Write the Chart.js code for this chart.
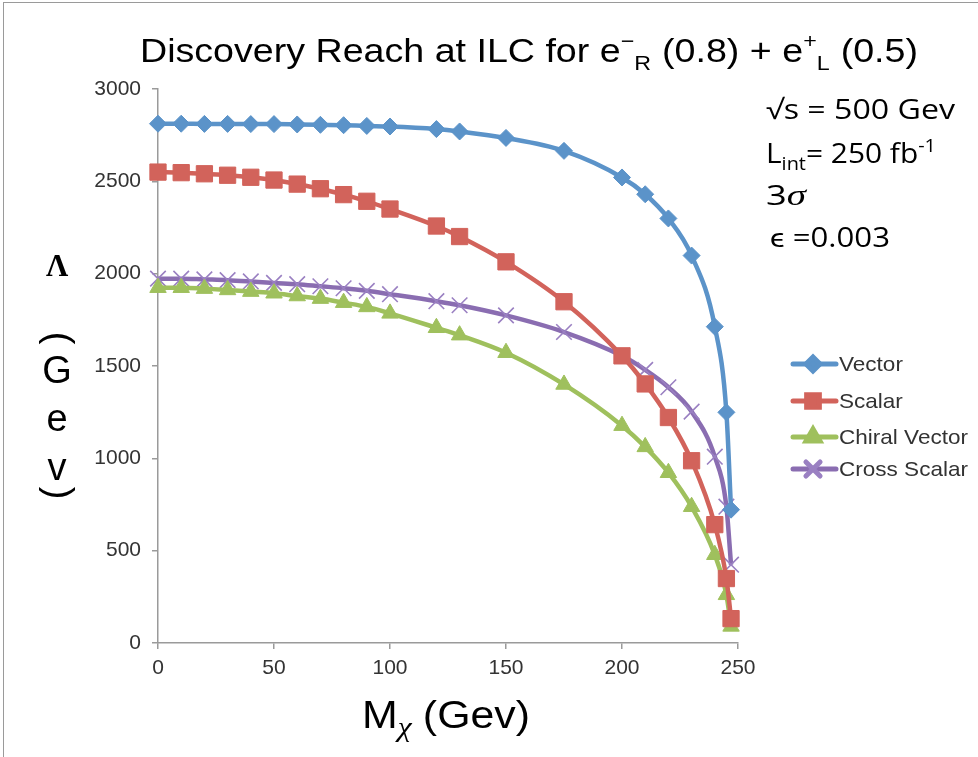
<!DOCTYPE html>
<html>
<head>
<meta charset="utf-8">
<script src="https://cdn.jsdelivr.net/npm/chart.js@4.4.1/dist/chart.umd.min.js"></script>
<style>
    html, body { margin: 0; padding: 0; background: #fff; overflow: hidden; }
    #wrap { position: relative; width: 978px; height: 757px; }
    #frame { position: absolute; left: 3px; top: 2px; width: 1000px; height: 800px;
             border: 1.5px solid #9a9a9a; pointer-events: none; }
</style>
</head>
<body>
<div id="wrap">
    <canvas id="reach-chart" width="978" height="757"></canvas>
    <div id="frame"></div>
</div>
<script>
// ─── Data ─────────────────────────────────────────────────
const massPoints = [0, 10, 20, 30, 40, 50, 60, 70, 80, 90, 100, 120, 130, 150, 175, 200, 210, 220, 230, 240, 245, 247];

const vectorReach = [2812, 2812, 2811, 2811, 2810, 2810, 2808, 2806, 2804, 2800, 2797, 2783, 2770, 2735, 2665, 2521, 2430, 2299, 2098, 1713, 1249, 722];
const scalarReach = [2550, 2547, 2541, 2533, 2522, 2507, 2485, 2460, 2428, 2392, 2350, 2258, 2201, 2064, 1848, 1555, 1403, 1221, 987, 641, 349, 132];
const chiralVectorReach = [1924, 1924, 1919, 1912, 1903, 1894, 1879, 1865, 1843, 1820, 1785, 1707, 1667, 1572, 1400, 1177, 1062, 922, 738, 478, 261, 90];
const crossScalarReach = [1973, 1973, 1969, 1965, 1958, 1950, 1943, 1932, 1921, 1907, 1889, 1851, 1829, 1774, 1684, 1555, 1479, 1385, 1253, 1009, 738, 424];

const seriesNames = ['Vector', 'Scalar', 'Chiral Vector', 'Cross Scalar'];
const xTicks = [0, 50, 100, 150, 200, 250];
const yTicks = [0, 500, 1000, 1500, 2000, 2500, 3000];

const SANS = '"Liberation Sans", Arial, sans-serif';
const CALI = '"Open Sans", Lato, sans-serif';
const SERIF = '"Liberation Serif", "Times New Roman", serif';

function toXY(ys) {
    return massPoints.map((x, i) => ({ x: x, y: ys[i] }));
}

// draws a row of text pieces (own font / vertical shift each);
// if fitWidth is given the row is squeezed or stretched horizontally to it
function drawRuns(ctx, runs, x, y, align, fitWidth) {
    let total = 0;
    runs.forEach(r => { ctx.font = r.font; total += ctx.measureText(r.t).width + (r.gap || 0); });
    const k = fitWidth ? fitWidth / total : 1;
    const w = total * k;
    const left = align === 'center' ? x - w / 2 : x;
    ctx.save();
    ctx.translate(left, y);
    ctx.scale(k, 1);
    ctx.textAlign = 'left';
    ctx.textBaseline = 'alphabetic';
    let cx = 0;
    runs.forEach(r => {
        ctx.font = r.font;
        ctx.fillText(r.t, cx, r.dy || 0);
        cx += ctx.measureText(r.t).width + (r.gap || 0);
    });
    ctx.restore();
}

const decorations = {
    id: 'decorations',
    afterDraw(chart) {
        const ctx = chart.ctx;
        ctx.save();
        ctx.fillStyle = '#000';

        // title
        const tf = '34px ' + SANS, sf = '21px ' + SANS;
        drawRuns(ctx, [
            { t: 'Discovery Reach at ILC for e', font: tf },
            { t: '\u2212', font: sf, dy: -14 },
            { t: 'R', font: sf, dy: 8, gap: 10 },
            { t: '(0.8) + e', font: tf },
            { t: '+', font: sf, dy: -14 },
            { t: 'L', font: sf, dy: 8, gap: 10 },
            { t: '(0.5)', font: tf }
        ], 140, 62, 'left', 778);

        // x axis title
        drawRuns(ctx, [
            { t: 'M', font: '38px ' + SANS },
            { t: '\u03C7', font: 'italic 28px ' + SERIF, dy: 8, gap: 10 },
            { t: '(Gev)', font: '38px ' + SANS }
        ], 362, 728, 'left', 168);

        // y axis title, stacked vertically
        ctx.textAlign = 'center';
        ctx.textBaseline = 'middle';
        ctx.font = 'bold 31px ' + SERIF;
        ctx.fillText('\u039B', 57, 268);
        ctx.font = '38px ' + SANS;
        [['G', 373], ['e', 421], ['v', 470]].forEach(([c, y]) => ctx.fillText(c, 57, y));
        [['(', 338], [')', 493]].forEach(([c, y]) => {
            ctx.save();
            ctx.translate(57, y);
            ctx.rotate(Math.PI / 2);
            ctx.fillText(c, 0, 0);
            ctx.restore();
        });

        // run conditions box
        const af = '27px ' + CALI, asub = '18px ' + CALI;
        drawRuns(ctx, [
            { t: '\u221As = 500 Gev', font: af }
        ], 766, 119, 'left', 189);
        drawRuns(ctx, [
            { t: 'L', font: af },
            { t: 'int', font: asub, dy: 7 },
            { t: '= 250 fb', font: af },
            { t: '-1', font: asub, dy: -11 }
        ], 766, 163, 'left', 170);
        drawRuns(ctx, [
            { t: '3', font: af },
            { t: '\u03C3', font: 'italic 29px ' + SERIF }
        ], 766, 205, 'left', 40);
        drawRuns(ctx, [
            { t: '\u03F5 =0.003', font: af }
        ], 770, 247, 'left', 120);

        // legend: line sample + marker + label
        const rows = [364, 401, 437, 469];
        ctx.font = '21px ' + SANS;
        const lk = 129 / ctx.measureText('Chiral Vector').width;
        chart.data.datasets.forEach((ds, i) => {
            const y = rows[i];
            ctx.strokeStyle = ds.borderColor;
            ctx.lineWidth = 5;
            ctx.lineCap = 'round';
            ctx.beginPath();
            ctx.moveTo(793, y);
            ctx.lineTo(836, y);
            ctx.stroke();
            ctx.fillStyle = ds.pointBackgroundColor;
            ctx.strokeStyle = ds.pointBorderColor;
            Chart.helpers.drawPoint(ctx, {
                pointStyle: ds.pointStyle,
                radius: ds.legendRadius,
                rotation: 0,
                borderWidth: ds.pointBorderWidth
            }, 813, y);
            ctx.save();
            ctx.translate(839, y + 1);
            ctx.scale(lk, 1);
            ctx.fillStyle = '#333';
            ctx.font = '21px ' + SANS;
            ctx.textAlign = 'left';
            ctx.textBaseline = 'middle';
            ctx.fillText(ds.label, 0, 0);
            ctx.restore();
        });
        ctx.restore();
    }
};

const lineCommon = {
    borderWidth: 4.5,
    cubicInterpolationMode: 'monotone',
    clip: false,
    fill: false
};

const tickFont = { family: SANS, size: 21 };

new Chart(document.getElementById('reach-chart'), {
    type: 'line',
    data: {
        datasets: [
            Object.assign({}, lineCommon, {
                label: seriesNames[0], data: toXY(vectorReach),
                borderColor: '#5b93c9', pointBackgroundColor: '#5b93c9', pointBorderColor: '#5b93c9',
                pointStyle: 'rectRot', pointRadius: 8.5, pointBorderWidth: 1, legendRadius: 7
            }),
            Object.assign({}, lineCommon, {
                label: seriesNames[1], data: toXY(scalarReach),
                borderColor: '#d2635b', pointBackgroundColor: '#d2635b', pointBorderColor: '#d2635b',
                pointStyle: 'rect', pointRadius: 11.5, pointBorderWidth: 1, legendRadius: 9
            }),
            Object.assign({}, lineCommon, {
                label: seriesNames[2], data: toXY(chiralVectorReach),
                borderColor: '#9fc05d', pointBackgroundColor: '#9fc05d', pointBorderColor: '#9fc05d',
                pointStyle: 'triangle', pointRadius: 9.5, pointBorderWidth: 1, legendRadius: 8
            }),
            Object.assign({}, lineCommon, {
                label: seriesNames[3], data: toXY(crossScalarReach),
                borderColor: '#8a6db1', pointBackgroundColor: '#9a80c2', pointBorderColor: '#9a80c2',
                pointStyle: 'crossRot', pointRadius: 11, pointBorderWidth: 1.6, legendRadius: 10
            })
        ]
    },
    options: {
        responsive: false,
        animation: false,
        layout: { padding: { left: 0, top: 89, right: 240, bottom: 0 } },
        plugins: {
            legend: { display: false },
            title: { display: false },
            tooltip: { enabled: false }
        },
        scales: {
            x: {
                type: 'linear', min: 0, max: 250,
                afterBuildTicks: s => { s.ticks = xTicks.map(v => ({ value: v })); },
                afterFit: s => { s.height = 114; },
                ticks: { color: '#333', padding: 7, font: tickFont, callback: v => String(v) },
                grid: { drawOnChartArea: false, drawTicks: true, tickLength: 6, color: '#9a9a9a', lineWidth: 1.5 },
                border: { color: '#9a9a9a', width: 1.5 }
            },
            y: {
                min: 0, max: 3000,
                afterBuildTicks: s => { s.ticks = yTicks.map(v => ({ value: v })); },
                afterFit: s => { s.width = 158; },
                ticks: { color: '#333', padding: 11, font: tickFont, callback: v => String(v) },
                grid: { drawOnChartArea: false, drawTicks: true, tickLength: 6, color: '#9a9a9a', lineWidth: 1.5 },
                border: { color: '#9a9a9a', width: 1.5 }
            }
        }
    },
    plugins: [decorations]
});
</script>
</body>
</html>
